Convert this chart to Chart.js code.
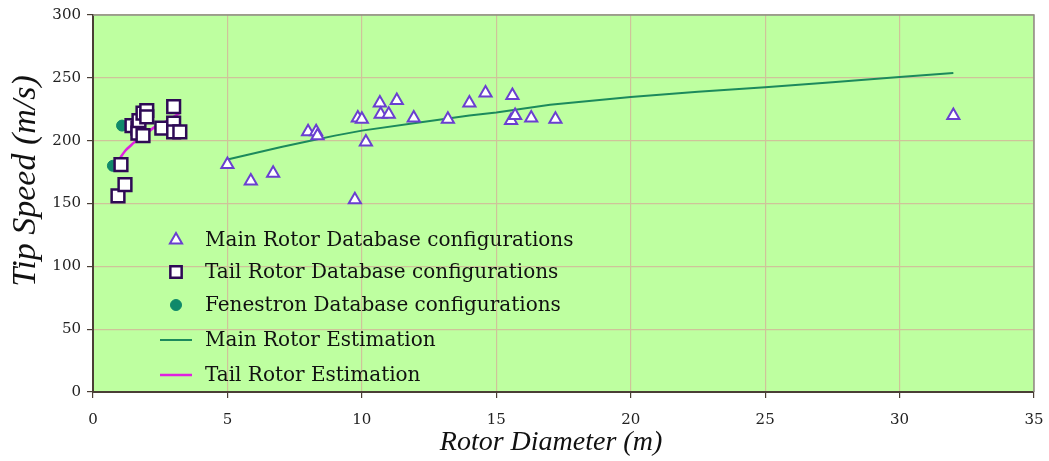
<!DOCTYPE html>
<html lang="en">
<head>
  <meta charset="UTF-8" />
  <title>Tip Speed vs Rotor Diameter</title>
  <script src="https://cdn.jsdelivr.net/npm/chart.js@4"></script>
  <style>
    html, body { margin: 0; padding: 0; background: #fff; }
    #wrap { width: 1049px; height: 461px; }
  </style>
</head>
<body>
  <div id="wrap"><canvas id="chart" width="1049" height="461"></canvas></div>

  <script>
    // main rotor database (diameter m, tip speed m/s)
    const mainD = [5.0, 5.87, 6.7, 8.0, 8.3, 8.35, 9.74, 9.85, 10.0, 10.15, 10.67, 10.7, 11.0, 11.3, 11.93, 13.2, 14.0, 14.6, 15.6, 15.55, 15.7, 16.3, 17.2, 32.0];
    const mainV = [181, 168, 174, 207, 207, 204, 153, 218, 217, 199, 230, 221, 221, 232, 218, 217, 230, 238, 236, 216, 220, 218, 217, 220];

    // tail rotor database
    const tailD = [0.93, 1.19, 1.04, 1.45, 1.67, 1.67, 1.86, 1.71, 1.86, 2.0, 2.0, 2.56, 3.0, 3.0, 3.0, 3.23];
    const tailV = [156, 165, 181, 212, 210, 206, 204, 216, 222, 224, 219, 210, 227, 214, 207, 207];

    // fenestron database
    const fenD = [0.74, 1.08];
    const fenV = [180, 212];

    // estimation curves
    const mainEstD = [5, 6, 7, 8, 9, 10, 12, 14, 15, 17, 20, 22.5, 25, 27.5, 30, 32];
    const mainEstV = [185, 190, 195, 199.5, 204, 208, 214, 220, 222.5, 228.5, 234.7, 239, 242.6, 246.5, 250.6, 253.8];
    const tailEstD = [0.97, 1.2, 1.5, 1.67, 2.0, 2.3, 2.6, 3.0, 3.23];
    const tailEstV = [185, 192, 198, 201, 206, 211, 214, 219, 222];

    const xTicks = [0, 5, 10, 15, 20, 25, 30, 35];
    const yTicks = [0, 50, 100, 150, 200, 250, 300];

    const xTitle = 'Rotor Diameter (m)';
    const yTitle = 'Tip Speed (m/s)';

    const pts = (xs, ys) => xs.map((x, i) => ({ x, y: ys[i] }));

    const serif = '"DejaVu Serif", serif';
    const titleFont = '"Liberation Serif", "Times New Roman", serif';

    function drawMarker(ctx, style, x, y, r) {
      if (style === 'triangle') {
        ctx.moveTo(x, y - r);
        ctx.lineTo(x + r * 0.866, y + r * 0.5);
        ctx.lineTo(x - r * 0.866, y + r * 0.5);
        ctx.closePath();
      } else if (style === 'rect') {
        const s = r * Math.SQRT1_2;
        ctx.rect(x - s, y - s, s * 2, s * 2);
      } else {
        ctx.arc(x, y, r, 0, Math.PI * 2);
      }
    }

    // plot area background + frame
    const plotBg = {
      id: 'plotBg',
      beforeDraw(chart) {
        const { ctx, chartArea: a } = chart;
        ctx.save();
        ctx.fillStyle = '#BEFFA0';
        ctx.fillRect(a.left, a.top, a.right - a.left, a.bottom - a.top);
        ctx.restore();
      },
      afterDatasetsDraw(chart) {
        const { ctx, chartArea: a } = chart;
        ctx.save();
        ctx.strokeStyle = '#8f8f86';
        ctx.lineWidth = 1.5;
        ctx.beginPath();
        ctx.moveTo(a.left, a.top);
        ctx.lineTo(a.right, a.top);
        ctx.lineTo(a.right, a.bottom);
        ctx.stroke();
        ctx.restore();
      }
    };

    // axis titles (placed like the original, off-centre)
    const axisTitles = {
      id: 'axisTitles',
      afterDraw(chart) {
        const { ctx } = chart;
        ctx.save();
        ctx.fillStyle = '#111';
        ctx.textAlign = 'center';
        ctx.textBaseline = 'middle';
        ctx.font = 'italic 28px ' + titleFont;
        ctx.fillText(xTitle, 551, 443);
        ctx.translate(26, 181);
        ctx.rotate(-Math.PI / 2);
        ctx.font = 'italic 34px ' + titleFont;
        ctx.fillText(yTitle, 0, 0);
        ctx.restore();
      }
    };

    // legend drawn inside the plot, lower left
    const innerLegend = {
      id: 'innerLegend',
      afterDraw(chart) {
        const { ctx } = chart;
        const rows = [240, 272, 305, 340, 375];
        ctx.save();
        ctx.font = '20px ' + serif;
        ctx.textBaseline = 'middle';
        chart.data.datasets.forEach((ds, i) => {
          const y = rows[i];
          if (ds.showLine) {
            ctx.strokeStyle = ds.borderColor;
            ctx.lineWidth = ds.borderWidth;
            ctx.beginPath();
            ctx.moveTo(160, y);
            ctx.lineTo(192, y);
            ctx.stroke();
          } else {
            ctx.fillStyle = ds.backgroundColor;
            ctx.strokeStyle = ds.borderColor;
            ctx.lineWidth = ds.borderWidth;
            ctx.beginPath();
            drawMarker(ctx, ds.pointStyle, 176, y, ds.pointStyle === 'rect' ? 8 : ds.pointRadius);
            ctx.fill();
            ctx.stroke();
          }
          ctx.fillStyle = '#111';
          ctx.fillText(ds.label, 205, y + 1);
        });
        ctx.restore();
      }
    };

    new Chart(document.getElementById('chart'), {
      type: 'scatter',
      data: {
        datasets: [
          {
            label: 'Main Rotor Database configurations',
            data: pts(mainD, mainV),
            pointStyle: 'triangle',
            pointRadius: 7,
            backgroundColor: '#ffffff',
            borderColor: '#6a3fd0',
            borderWidth: 2,
            order: 1
          },
          {
            label: 'Tail Rotor Database configurations',
            data: pts(tailD, tailV),
            pointStyle: 'rect',
            pointRadius: 9,
            backgroundColor: '#ffffff',
            borderColor: '#2e0a55',
            borderWidth: 2.5,
            order: 0
          },
          {
            label: 'Fenestron Database configurations',
            data: pts(fenD, fenV),
            pointStyle: 'circle',
            pointRadius: 5.5,
            backgroundColor: '#10896a',
            borderColor: '#10896a',
            borderWidth: 1,
            order: 2
          },
          {
            label: 'Main Rotor Estimation',
            data: pts(mainEstD, mainEstV),
            showLine: true,
            pointRadius: 0,
            borderColor: '#1c8a5c',
            borderWidth: 2,
            order: 3
          },
          {
            label: 'Tail Rotor Estimation',
            data: pts(tailEstD, tailEstV),
            showLine: true,
            pointRadius: 0,
            borderColor: '#e020e0',
            borderWidth: 2.5,
            tension: 0.3,
            order: 4
          }
        ]
      },
      options: {
        responsive: false,
        animation: false,
        layout: { padding: { top: 15, right: 15 } },
        plugins: {
          legend: { display: false },
          tooltip: { enabled: false }
        },
        scales: {
          x: {
            type: 'linear',
            min: 0,
            max: 35,
            afterBuildTicks: s => { s.ticks = xTicks.map(v => ({ value: v })); },
            afterFit: s => { s.height = 69; s.paddingRight = 0; s.paddingLeft = 0; },
            grid: { color: '#cfc39a', lineWidth: 1.2, tickColor: '#4a3f35', tickLength: 6 },
            border: { color: '#4a3f35', width: 2 },
            ticks: { color: '#222', font: { family: serif, size: 15 }, padding: 13, maxRotation: 0 }
          },
          y: {
            type: 'linear',
            min: 0,
            max: 300,
            afterBuildTicks: s => { s.ticks = yTicks.map(v => ({ value: v })); },
            afterFit: s => { s.width = 93; s.paddingTop = 0; s.paddingBottom = 0; },
            grid: { color: '#cfc39a', lineWidth: 1.2, tickColor: '#4a3f35', tickLength: 6 },
            border: { color: '#4a3f35', width: 2 },
            ticks: { color: '#222', font: { family: serif, size: 15 }, padding: 6 }
          }
        }
      },
      plugins: [plotBg, axisTitles, innerLegend]
    });
  </script>
</body>
</html>
